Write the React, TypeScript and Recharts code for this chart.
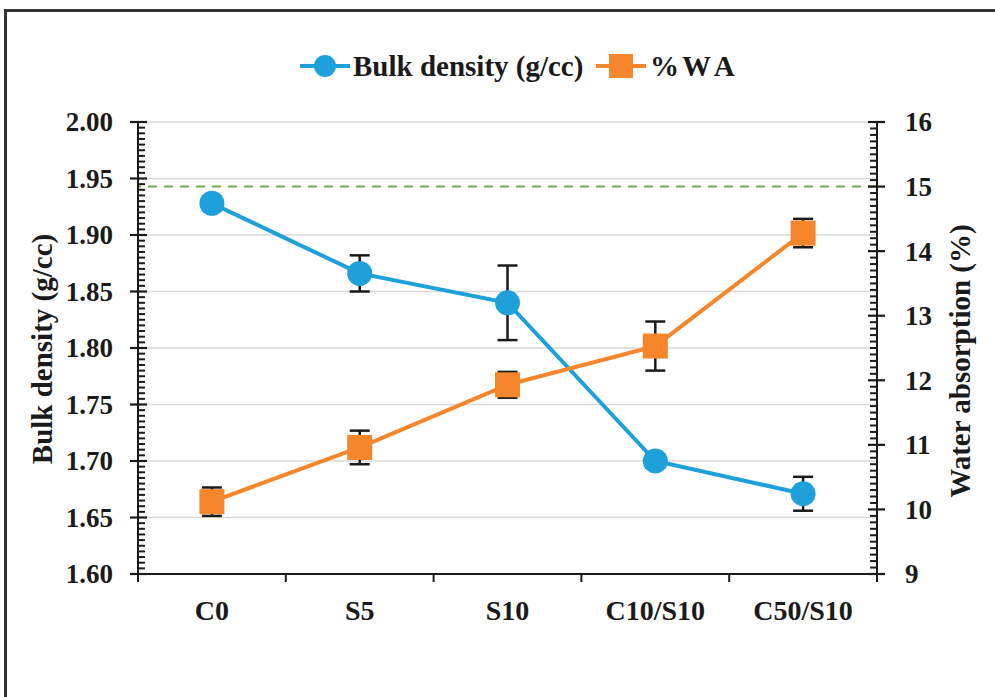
import React from 'react';
import { LineChart, Line, XAxis, YAxis, ErrorBar, ReferenceLine, Legend } from 'recharts';

const categories = ['C0', 'S5', 'S10', 'C10/S10', 'C50/S10'];
const bulkDensity = [1.928, 1.866, 1.84, 1.7, 1.671];
const bulkDensityErr = [0.006, 0.016, 0.033, 0.006, 0.015];
const waterAbsorption = [10.12, 10.96, 11.93, 12.53, 14.28];
const waterAbsorptionErr = [0.22, 0.26, 0.2, 0.38, 0.22];
const waLimit = 15;

const leftMajorTicks = [1.6, 1.65, 1.7, 1.75, 1.8, 1.85, 1.9, 1.95, 2.0];
const rightMajorTicks = [9, 10, 11, 12, 13, 14, 15, 16];
const leftAllTicks = Array.from({ length: 81 }, (_, i) => Number((1.6 + i * 0.005).toFixed(3)));
const rightAllTicks = Array.from({ length: 71 }, (_, i) => Number((9 + i * 0.1).toFixed(1)));

const data = categories.map((c, i) => ({
  cat: c,
  bd: bulkDensity[i],
  bdErr: bulkDensityErr[i],
  wa: waterAbsorption[i],
  waErr: waterAbsorptionErr[i],
}));

const BLUE = '#1EA0DA';
const ORANGE = '#F5862B';
const INK = '#1a1a1a';
const FONT = '"Liberation Serif", "Times New Roman", serif';

const isLeftMajor = (v: number) => leftMajorTicks.some((m) => Math.abs(m - v) < 1e-6);
const isRightMajor = (v: number) => rightMajorTicks.some((m) => Math.abs(m - v) < 1e-6);

const LeftTick = (props: any) => {
  const { x, y, payload } = props;
  const v = Number(payload.value);
  if (!isLeftMajor(v)) {
    return (
      <g>
        <line x1={x - 1} x2={x + 7} y1={y} y2={y} stroke={INK} strokeWidth={2} />
      </g>
    );
  }
  return (
    <g>
      <line x1={x - 8} x2={x + 9} y1={y} y2={y} stroke={INK} strokeWidth={2.2} />
      <text x={x - 25} y={y} dy="0.35em" textAnchor="end" fontFamily={FONT} fontWeight="bold" fontSize={27} fill={INK}>
        {v.toFixed(2)}
      </text>
    </g>
  );
};

const RightTick = (props: any) => {
  const { x, y, payload } = props;
  const v = Number(payload.value);
  if (!isRightMajor(v)) {
    return (
      <g>
        <line x1={x - 7} x2={x + 1} y1={y} y2={y} stroke={INK} strokeWidth={2} />
      </g>
    );
  }
  return (
    <g>
      <line x1={x - 9} x2={x + 8} y1={y} y2={y} stroke={INK} strokeWidth={2.2} />
      <text x={x + 28} y={y} dy="0.35em" textAnchor="start" fontFamily={FONT} fontWeight="bold" fontSize={27} fill={INK}>
        {v}
      </text>
    </g>
  );
};

const XTick = (props: any) => {
  const { x, y, payload, index, visibleTicksCount } = props;
  const count = visibleTicksCount || categories.length;
  const band = (props.width && props.width > 10 ? props.width : 741) / count;
  return (
    <g>
      <line x1={x - band / 2} x2={x - band / 2} y1={y} y2={y + 8} stroke={INK} strokeWidth={2} />
      {index === count - 1 && (
        <line x1={x + band / 2} x2={x + band / 2} y1={y} y2={y + 8} stroke={INK} strokeWidth={2} />
      )}
      <text x={x} y={y + 46} textAnchor="middle" fontFamily={FONT} fontWeight="bold" fontSize={28} fill={INK}>
        {payload.value}
      </text>
    </g>
  );
};

const AxisTitle = (props: any) => {
  const { tx, ty, text } = props;
  return (
    <text
      x={tx}
      y={ty}
      dy="0.35em"
      transform={`rotate(-90 ${tx} ${ty})`}
      textAnchor="middle"
      fontFamily={FONT}
      fontWeight="bold"
      fontSize={29}
      fill={INK}
    >
      {text}
    </text>
  );
};

const SquareDot = (props: any) => {
  const { cx, cy } = props;
  if (cx == null || cy == null) return null;
  return <rect x={cx - 12.5} y={cy - 12.5} width={25} height={25} fill={ORANGE} />;
};

const LegendContent = () => (
  <svg width={995} height={52} style={{ display: 'block' }}>
    <line x1={300} x2={350} y1={25} y2={25} stroke={BLUE} strokeWidth={4} />
    <circle cx={325} cy={25} r={11} fill={BLUE} />
    <text x={353} y={25} dy="0.35em" fontFamily={FONT} fontWeight="bold" fontSize={29} fill={INK}>
      Bulk density (g/cc)
    </text>
    <line x1={596} x2={646} y1={25} y2={25} stroke={ORANGE} strokeWidth={4} />
    <rect x={609} y={13} width={24} height={24} fill={ORANGE} />
    <text x={650} y={25} dy="0.35em" fontFamily={FONT} fontWeight="bold" fontSize={29} fill={INK}>
      %
      <tspan dx={3}>W</tspan>
      <tspan dx={6}>A</tspan>
    </text>
  </svg>
);

export default function App() {
  return (
    <div style={{ position: 'fixed', left: 0, top: 0, width: 995, height: 697, overflow: 'hidden', background: '#fff' }}>
      <div
        style={{
          position: 'absolute',
          left: 4,
          top: 9,
          width: 1100,
          height: 800,
          borderTop: '3px solid #333',
          borderLeft: '3px solid #333',
        }}
      />
      <div style={{ position: 'absolute', left: 0, top: 0 }}>
        <LineChart width={995} height={697} data={data} margin={{ top: 122, right: 117, bottom: 122, left: 137 }}>
          {leftMajorTicks.slice(1).map((v) => (
            <ReferenceLine key={v} yAxisId="left" y={v} stroke="#d9d9d9" strokeWidth={1.5} />
          ))}
          <ReferenceLine yAxisId="right" y={waLimit} stroke="#70AD47" strokeWidth={2} strokeDasharray="9 7" />
          <XAxis
            dataKey="cat"
            scale="band"
            height={1}
            tickSize={0}
            tickMargin={0}
            tickLine={false}
            interval={0}
            axisLine={{ stroke: INK, strokeWidth: 2 }}
            tick={<XTick />}
          />
          <YAxis
            yAxisId="left"
            orientation="left"
            width={1}
            domain={[1.6, 2.0]}
            type="number"
            ticks={leftAllTicks}
            interval={0}
            tickSize={0}
            tickMargin={0}
            tickLine={false}
            axisLine={{ stroke: INK, strokeWidth: 2 }}
            tick={<LeftTick />}
            allowDataOverflow
            label={<AxisTitle tx={42} ty={349} text="Bulk density (g/cc)" />}
          />
          <YAxis
            yAxisId="right"
            orientation="right"
            width={1}
            domain={[9, 16]}
            type="number"
            ticks={rightAllTicks}
            interval={0}
            tickSize={0}
            tickMargin={0}
            tickLine={false}
            axisLine={{ stroke: INK, strokeWidth: 2 }}
            tick={<RightTick />}
            allowDataOverflow
            label={<AxisTitle tx={960} ty={361} text="Water absorption (%)" />}
          />
          <Legend
            layout="vertical"
            align="center"
            verticalAlign="middle"
            wrapperStyle={{ top: 41, left: 0, width: 995, height: 52 }}
            content={<LegendContent />}
          />
          <Line
            yAxisId="left"
            dataKey="bd"
            stroke={BLUE}
            strokeWidth={4}
            dot={{ r: 12.5, fill: BLUE, stroke: BLUE, strokeWidth: 0 }}
            activeDot={false}
            isAnimationActive={false}
          >
            <ErrorBar dataKey="bdErr" direction="y" width={10} strokeWidth={2.5} stroke={INK} />
          </Line>
          <Line
            yAxisId="right"
            dataKey="wa"
            stroke={ORANGE}
            strokeWidth={4}
            dot={<SquareDot />}
            activeDot={false}
            isAnimationActive={false}
          >
            <ErrorBar dataKey="waErr" direction="y" width={10} strokeWidth={2.5} stroke={INK} />
          </Line>
        </LineChart>
      </div>
    </div>
  );
}
